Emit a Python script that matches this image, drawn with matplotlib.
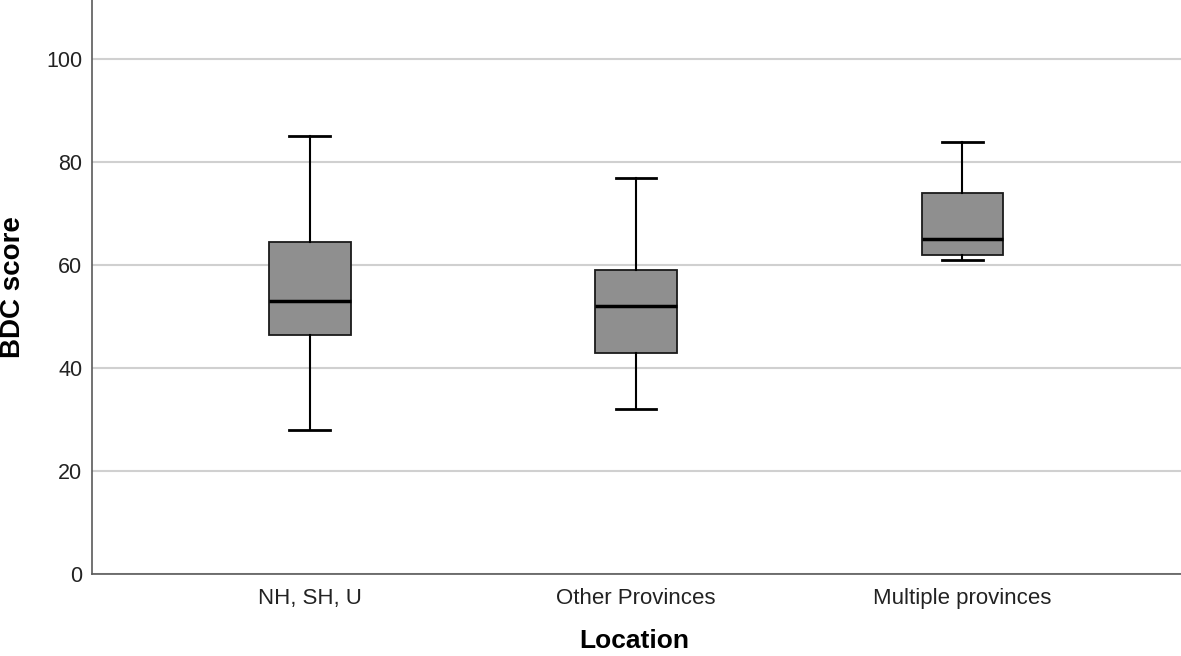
import matplotlib
matplotlib.use('Agg')
import matplotlib.pyplot as plt

# values
categories = ['NH, SH, U', 'Other Provinces', 'Multiple provinces']
whisker_low = [28, 32, 61]
q1 = [46.5, 43, 62]
median = [53, 52, 65]
q3 = [64.5, 59, 74]
whisker_high = [85, 77, 84]

plt.rcParams['font.family'] = ['Liberation Sans', 'DejaVu Sans']

fig = plt.figure(figsize=(11.81, 6.56), dpi=100)
ax = fig.add_axes([0.078, 0.125, 0.922, 0.875])

stats = []
for i in range(len(categories)):
    stats.append({'whislo': whisker_low[i], 'q1': q1[i], 'med': median[i],
                  'q3': q3[i], 'whishi': whisker_high[i], 'fliers': [],
                  'label': categories[i]})

positions = [1, 2, 3]
ax.bxp(stats, positions=positions, widths=0.25, patch_artist=True,
       showfliers=False,
       boxprops=dict(facecolor='#8f8f8f', edgecolor='#1a1a1a', linewidth=1.3),
       medianprops=dict(color='black', linewidth=2.5),
       whiskerprops=dict(color='black', linewidth=1.5),
       capprops=dict(color='black', linewidth=2),
       capwidths=0.125, zorder=3)

ax.set_xlim(0.333, 3.67)
ax.set_ylim(0, 111.5)
ax.set_yticks([0, 20, 40, 60, 80, 100])
ax.yaxis.grid(True, color='#d0d0d0', linewidth=1.5, zorder=0)
ax.set_axisbelow(True)

for s in ['top', 'right']:
    ax.spines[s].set_visible(False)
for s in ['left', 'bottom']:
    ax.spines[s].set_color('#5a5a5a')
    ax.spines[s].set_linewidth(1.2)

ax.tick_params(axis='both', length=0, colors='#222222')
ax.tick_params(axis='y', labelsize=15.5, pad=7)
ax.tick_params(axis='x', labelsize=16, pad=10)

# axis titles placed by hand, like the reference (SPSS style)
fig.text(0.537, 0.004, 'Location', fontsize=19, fontweight='bold',
         ha='center', va='bottom')
fig.text(0.0, 0.562, 'BDC score', fontsize=20, fontweight='bold',
         rotation=90, ha='left', va='center')

fig.savefig('out.png', dpi=100)
